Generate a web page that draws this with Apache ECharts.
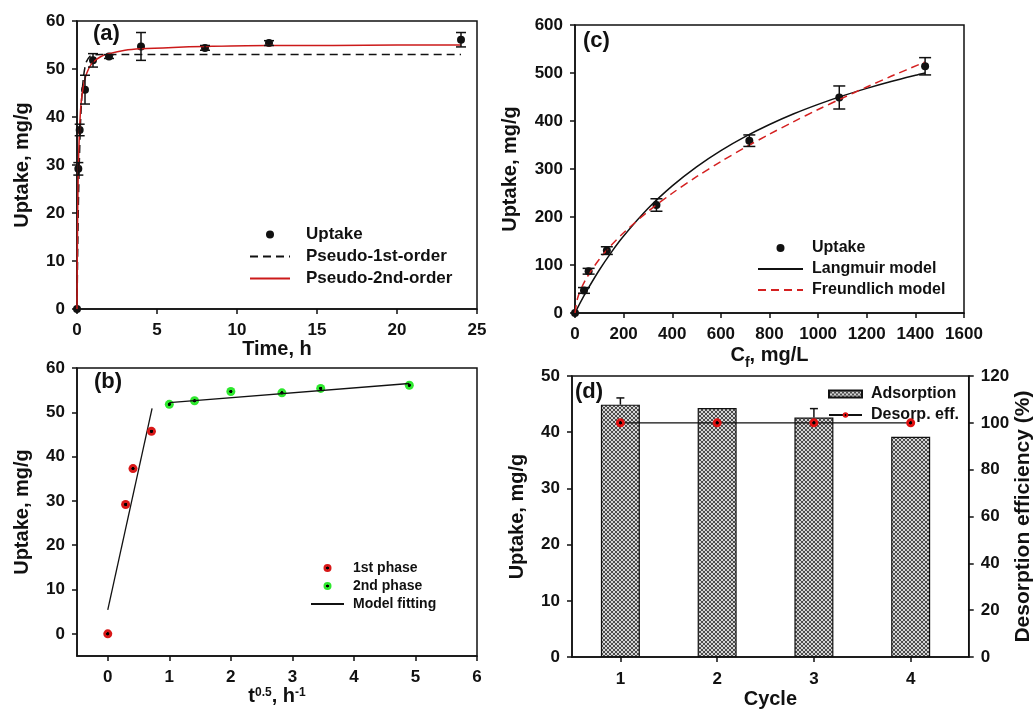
<!DOCTYPE html>
<html>
<head>
<meta charset="utf-8">
<script src="https://cdn.jsdelivr.net/npm/echarts@6/dist/echarts.min.js"></script>
<style>html,body{margin:0;padding:0;background:#fff}#c{width:1035px;height:710px}</style>
</head>
<body>
<div id="c"></div>
<script>
// ---------- DATA ----------
// (a) kinetics
const aTime   = [0, 0.083, 0.167, 0.5, 1, 2, 4, 8, 12, 24];
const aUptake = [0, 29.2, 37.3, 45.7, 51.8, 52.6, 54.7, 54.4, 55.4, 56.1];
const aErr    = [0, 1.3, 1.2, 3.0, 1.4, 0.4, 2.9, 0.5, 0.5, 1.5];
const pfoT = [0, 0.05, 0.1, 0.2, 0.3, 0.4, 0.5, 0.6, 0.8, 1.0, 1.5, 24];
const pfoQ = [0, 13.7, 23.9, 37.0, 44.2, 48.2, 50.4, 51.6, 52.6, 52.9, 53.0, 53.0];
const psoT = [0, 0.02, 0.05, 0.1, 0.2, 0.3, 0.5, 0.75, 1, 1.5, 2, 3, 4, 6, 8, 12, 16, 20, 24];
const psoQ = [0, 11.7, 22.1, 31.6, 40.2, 44.2, 48.0, 50.2, 51.4, 52.6, 53.2, 53.9, 54.2, 54.5, 54.7, 54.9, 54.9, 55.0, 55.0];
// (b) intraparticle diffusion
const b1X = [0, 0.29, 0.41, 0.71];
const b1Y = [0, 29.2, 37.3, 45.7];
const b2X = [1, 1.41, 2, 2.83, 3.46, 4.9];
const b2Y = [51.8, 52.6, 54.7, 54.4, 55.4, 56.1];
const bFit1X = [0, 0.72], bFit1Y = [5.4, 50.9];
const bFit2X = [1, 4.9],  bFit2Y = [52.2, 56.5];
const bTicksX = [0, 1, 2, 3, 4, 5, 6];
const bTicksY = [0, 10, 20, 30, 40, 50, 60];
// (c) isotherm
const cCf  = [0, 37, 56, 131, 335, 717, 1087, 1440];
const cQ   = [0, 47, 87, 130, 225, 359, 449, 514];
const cErr = [0, 6, 6, 8, 13, 12, 24, 18];
const langC = [0, 25, 50, 100, 150, 200, 300, 400, 500, 600, 700, 800, 900, 1000, 1100, 1200, 1300, 1400, 1440];
const langQ = [0, 24.6, 47.6, 89.6, 126.9, 160.3, 217.5, 264.7, 304.4, 338.2, 367.3, 392.6, 415.0, 434.6, 452.4, 468.0, 482.3, 495.2, 500];
const freuC = [0, 10, 25, 50, 100, 150, 200, 300, 400, 500, 600, 700, 800, 900, 1000, 1100, 1200, 1300, 1440];
const freuQ = [0, 29.6, 50.3, 75.0, 112.0, 141.6, 167.1, 211.4, 249.5, 283.9, 315.4, 344.9, 372.6, 398.8, 423.9, 447.8, 470.9, 493.1, 523];
// (d) reuse cycles
const dCycle  = [1, 2, 3, 4];
const dUptake = [44.9, 44.3, 42.6, 39.2];
const dErr    = [1.2, 0, 1.6, 0];
const dDesorp = [100, 100, 100, 100];

// ---------- helpers ----------
const zip = (xs, ys) => xs.map((x, i) => [x, ys[i]]);
const zip3 = (xs, ys, es) => xs.map((x, i) => [x, ys[i], es[i]]);
const FONT = 'Arial, "Liberation Sans", sans-serif';
const INK = '#111';

const pc = document.createElement('canvas');
pc.width = 4; pc.height = 4;
const g = pc.getContext('2d');
g.fillStyle = '#d4d4d4'; g.fillRect(0, 0, 4, 4);
g.strokeStyle = '#3c3c3c'; g.lineWidth = 0.9;
g.beginPath(); g.moveTo(0, 0); g.lineTo(4, 4); g.moveTo(4, 0); g.lineTo(0, 4); g.stroke();

function dotFill(c) {
  return { type: 'radial', x: 0.5, y: 0.5, r: 0.5,
    colorStops: [{offset: 0, color: '#000'}, {offset: 0.3, color: '#000'},
                 {offset: 0.42, color: c}, {offset: 1, color: c}] };
}

const axLine = { show: true, onZero: false, lineStyle: { color: INK, width: 1.5 } };
const tick = { show: true, inside: false, length: 5, lineStyle: { color: INK, width: 1.5 } };
const lbl = { color: INK, fontFamily: FONT, fontWeight: 'bold', fontSize: 17, formatter: v => String(v) };
const nameStyle = { color: INK, fontFamily: FONT, fontWeight: 'bold', fontSize: 20 };

function xAx(gi, min, max, interval, name, gap, extra) {
  return Object.assign({
    type: 'value', gridIndex: gi, min, max, interval, position: 'bottom',
    name, nameLocation: 'middle', nameGap: gap, nameTextStyle: nameStyle,
    axisLine: axLine, axisTick: tick, axisLabel: Object.assign({ margin: 13 }, lbl),
    splitLine: { show: false }
  }, extra || {});
}
function yAx(gi, min, max, interval, name, gap, extra) {
  return Object.assign({
    type: 'value', gridIndex: gi, min, max, interval, position: 'left',
    name, nameLocation: 'middle', nameGap: gap, nameTextStyle: nameStyle,
    axisLine: axLine, axisTick: tick, axisLabel: Object.assign({ margin: 12 }, lbl),
    splitLine: { show: false }
  }, extra || {});
}

function errSeries(xi, yi, data, hw, upOnly) {
  return {
    type: 'custom', xAxisIndex: xi, yAxisIndex: yi, data, silent: true, z: 6,
    encode: { x: 0, y: 1 }, clip: false,
    renderItem(params, api) {
      const x = api.value(0), y = api.value(1), e = api.value(2);
      if (!e) return null;
      const p1 = api.coord([x, y + e]);
      const p0 = upOnly ? api.coord([x, y]) : api.coord([x, y - e]);
      const st = { stroke: INK, lineWidth: 1.5 };
      const ch = [
        { type: 'line', shape: { x1: p0[0], y1: p0[1], x2: p1[0], y2: p1[1] }, style: st },
        { type: 'line', shape: { x1: p1[0] - hw, y1: p1[1], x2: p1[0] + hw, y2: p1[1] }, style: st }
      ];
      if (!upOnly) ch.push({ type: 'line', shape: { x1: p0[0] - hw, y1: p0[1], x2: p0[0] + hw, y2: p0[1] }, style: st });
      return { type: 'group', children: ch };
    }
  };
}

const legTxt = (size, padL) => ({ color: INK, fontFamily: FONT, fontWeight: 'bold', fontSize: size, padding: [0, 0, 0, padL] });
const lineOnly = name => ({ name, itemStyle: { opacity: 0 } });

const option = {
  animation: false,
  backgroundColor: '#fff',
  grid: [
    { left: 77, top: 21, width: 400, height: 288, show: true, borderColor: INK, borderWidth: 1.5 },
    { left: 77, top: 368, width: 400, height: 288, show: true, borderColor: INK, borderWidth: 1.5 },
    { left: 575, top: 25, width: 389, height: 288, show: true, borderColor: INK, borderWidth: 1.5 },
    { left: 572, top: 376, width: 400, height: 287, show: true, borderColor: INK, borderWidth: 1.5 }
  ],
  xAxis: [
    xAx(0, 0, 25, 5, 'Time, h', 30),
    xAx(1, -0.5, 6, null, '{a|t}{s|0.5}{a|, h}{s|-1}', 28, {
      axisLabel: Object.assign({ margin: 13, customValues: bTicksX }, lbl),
      axisTick: Object.assign({}, tick, { customValues: bTicksX }),
      nameTextStyle: Object.assign({}, nameStyle, { rich: {
        a: { fontFamily: FONT, fontWeight: 'bold', fontSize: 20, color: INK, verticalAlign: 'bottom' },
        s: { fontFamily: FONT, fontWeight: 'bold', fontSize: 12, color: INK, verticalAlign: 'top' } } })
    }),
    xAx(2, 0, 1600, 200, '{a|C}{s|f}{a|, mg/L}', 32, {
      nameTextStyle: Object.assign({}, nameStyle, { rich: {
        a: { fontFamily: FONT, fontWeight: 'bold', fontSize: 20, color: INK, verticalAlign: 'top', lineHeight: 22 },
        s: { fontFamily: FONT, fontWeight: 'bold', fontSize: 14, color: INK, verticalAlign: 'bottom', lineHeight: 25 } } })
    }),
    xAx(3, 0.5, 4.6, null, 'Cycle', 28, {
      axisLabel: Object.assign({ margin: 14, customValues: dCycle }, lbl),
      axisTick: Object.assign({}, tick, { customValues: dCycle })
    })
  ],
  yAxis: [
    yAx(0, 0, 60, 10, 'Uptake, mg/g', 45),
    yAx(1, -5, 60, null, 'Uptake, mg/g', 45, {
      axisLabel: Object.assign({ margin: 12, customValues: bTicksY }, lbl),
      axisTick: Object.assign({}, tick, { customValues: bTicksY })
    }),
    yAx(2, 0, 600, 100, 'Uptake, mg/g', 55),
    yAx(3, 0, 50, 10, 'Uptake, mg/g', 45),
    yAx(3, 0, 120, 20, 'Desorption efficiency (%)', 44, { position: 'right',
      nameTextStyle: Object.assign({}, nameStyle, { fontSize: 21 }) })
  ],
  legend: [
    { data: ['Uptake', lineOnly('Pseudo-1st-order'), lineOnly('Pseudo-2nd-order')], orient: 'vertical', left: 244, top: 221,
      itemWidth: 40, itemHeight: 8, itemGap: 5, textStyle: legTxt(17, 11), selectedMode: false },
    { data: ['1st phase', '2nd phase', lineOnly('Model fitting')], orient: 'vertical', left: 305, top: 556,
      itemWidth: 33, itemHeight: 8, itemGap: 4, textStyle: legTxt(14, 4), selectedMode: false },
    { data: ['Uptake', lineOnly('Langmuir model'), lineOnly('Freundlich model')], orient: 'vertical', left: 752, top: 235,
      itemWidth: 45, itemHeight: 8, itemGap: 5, textStyle: legTxt(16, 4), selectedMode: false },
    { data: [{ name: 'Adsorption', icon: 'rect' }, 'Desorp. eff.'], orient: 'vertical', left: 823, top: 381,
      itemWidth: 33, itemHeight: 7, itemGap: 5, textStyle: legTxt(16, 4), selectedMode: false }
  ],
  graphic: [
    { type: 'text', left: 93, top: 23, style: { text: '(a)', font: 'bold 22px ' + FONT, fill: INK } },
    { type: 'text', left: 94, top: 371, style: { text: '(b)', font: 'bold 22px ' + FONT, fill: INK } },
    { type: 'text', left: 583, top: 30, style: { text: '(c)', font: 'bold 22px ' + FONT, fill: INK } },
    { type: 'text', left: 575, top: 381, style: { text: '(d)', font: 'bold 22px ' + FONT, fill: INK } }
  ],
  series: [
    // (a)
    errSeries(0, 0, zip3(aTime, aUptake, aErr), 5, false),
    { name: 'Uptake', type: 'scatter', xAxisIndex: 0, yAxisIndex: 0, data: zip(aTime, aUptake),
      symbol: 'circle', symbolSize: 8, itemStyle: { color: INK, opacity: 1 }, clip: false, z: 4 },
    { name: 'Pseudo-1st-order', type: 'line', xAxisIndex: 0, yAxisIndex: 0, data: zip(pfoT, pfoQ), symbol: 'none',
      showSymbol: false, smooth: 0.3, lineStyle: { color: '#111', width: 1.5, type: [8, 5] }, itemStyle: { color: '#111' }, z: 5 },
    { name: 'Pseudo-2nd-order', type: 'line', xAxisIndex: 0, yAxisIndex: 0, data: zip(psoT, psoQ), symbol: 'none',
      showSymbol: false, smooth: 0.3, lineStyle: { color: '#cc1a1a', width: 1.5 }, itemStyle: { color: '#cc1a1a' }, z: 5 },
    // (b)
    { name: 'Model fitting', type: 'line', xAxisIndex: 1, yAxisIndex: 1, data: zip(bFit1X, bFit1Y), symbol: 'none',
      showSymbol: false, lineStyle: { color: INK, width: 1.3 }, itemStyle: { color: INK }, z: 3 },
    { name: 'Model fitting', type: 'line', xAxisIndex: 1, yAxisIndex: 1, data: zip(bFit2X, bFit2Y), symbol: 'none',
      showSymbol: false, lineStyle: { color: INK, width: 1.3 }, itemStyle: { color: INK }, z: 5 },
    { name: '1st phase', type: 'scatter', xAxisIndex: 1, yAxisIndex: 1, data: zip(b1X, b1Y),
      symbol: 'circle', symbolSize: 9, itemStyle: { color: dotFill('#d81818'), opacity: 1 }, z: 4 },
    { name: '2nd phase', type: 'scatter', xAxisIndex: 1, yAxisIndex: 1, data: zip(b2X, b2Y),
      symbol: 'circle', symbolSize: 9, itemStyle: { color: dotFill('#2ee82e'), opacity: 1 }, z: 4 },
    // (c)
    errSeries(2, 2, zip3(cCf, cQ, cErr), 6, false),
    { name: 'Uptake', type: 'scatter', xAxisIndex: 2, yAxisIndex: 2, data: zip(cCf, cQ),
      symbol: 'circle', symbolSize: 8, itemStyle: { color: INK, opacity: 1 }, clip: false, z: 4 },
    { name: 'Langmuir model', type: 'line', xAxisIndex: 2, yAxisIndex: 2, data: zip(langC, langQ), symbol: 'none',
      showSymbol: false, smooth: 0.3, lineStyle: { color: INK, width: 1.5 }, itemStyle: { color: INK }, z: 5 },
    { name: 'Freundlich model', type: 'line', xAxisIndex: 2, yAxisIndex: 2, data: zip(freuC, freuQ), symbol: 'none',
      showSymbol: false, smooth: 0.3, lineStyle: { color: '#d42020', width: 1.5, type: [8, 5] }, itemStyle: { color: '#d42020' }, z: 5 },
    // (d)
    { name: 'Adsorption', type: 'bar', xAxisIndex: 3, yAxisIndex: 3, data: zip(dCycle, dUptake),
      barWidth: 39, itemStyle: { color: { image: pc, repeat: 'repeat' }, borderColor: INK, borderWidth: 1.2 }, z: 2 },
    errSeries(3, 3, zip3(dCycle, dUptake, dErr), 4, true),
    { name: 'Desorp. eff.', type: 'line', xAxisIndex: 3, yAxisIndex: 4, data: zip(dCycle, dDesorp),
      symbol: 'circle', symbolSize: 9, showSymbol: true,
      lineStyle: { color: INK, width: 1.3 }, itemStyle: { color: dotFill('#e01010'), borderWidth: 0, opacity: 1 }, z: 7 }
  ]
};

const chart = echarts.init(document.getElementById('c'), null, { renderer: 'canvas' });
chart.setOption(option);
</script>
</body>
</html>
